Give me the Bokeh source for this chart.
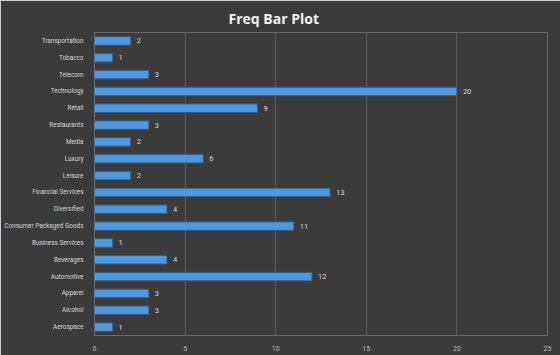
from bokeh.plotting import figure
from bokeh.models import ColumnDataSource, LabelSet, FixedTicker, Range1d
from bokeh.core.properties import value
from bokeh.embed import file_html
from bokeh.resources import INLINE

categories = ["Aerospace", "Alcohol", "Apparel", "Automotive", "Beverages",
              "Business Services", "Consumer Packaged Goods", "Diversified",
              "Financial Services", "Leisure", "Luxury", "Media", "Restaurants",
              "Retail", "Technology", "Telecom", "Tobacco", "Transportation"]
counts = [1, 3, 3, 12, 4, 1, 11, 4, 13, 2, 6, 2, 3, 9, 20, 3, 1, 2]
x_ticks = [0, 5, 10, 15, 20, 25]

FONT = "Roboto"

src = ColumnDataSource(dict(cat=categories, n=counts, lab=[str(c) for c in counts]))

p = figure(width=560, height=355, y_range=categories, x_range=Range1d(0, 25),
           output_backend="svg", toolbar_location=None,
           title="Freq Bar Plot",
           min_border_left=94, min_border_right=13, min_border_top=32,
           min_border_bottom=20)

bg = "#3b3b3b"
p.background_fill_color = bg
p.border_fill_color = bg
p.outline_line_color = None

p.title.align = "left"
p.title.offset = 134
p.title.text_color = "#f2f2f2"
p.title.text_font = "Open Sans"
p.title.text_font_size = "14px"
p.title.text_font_style = "bold"

p.hbar(y="cat", right="n", left=0, height=0.5, source=src,
       fill_color="#5099de", line_color="#2f5f90", line_width=1)

labels = LabelSet(x="n", y="cat", text="lab", source=src, x_offset=6,
                  text_baseline="middle", text_color="#d9d9d9",
                  text_font_size="7.5px", text_font=value(FONT))
p.add_layout(labels)

p.xaxis.ticker = FixedTicker(ticks=x_ticks)
p.xaxis.axis_line_color = None
p.xaxis.major_tick_line_color = None
p.xaxis.minor_tick_line_color = None
p.xaxis.major_label_text_color = "#bfbfbf"
p.xaxis.major_label_text_font = FONT
p.xaxis.major_label_text_font_size = "7px"
p.xaxis.major_label_standoff = 4

p.yaxis.axis_line_color = "#6e6e6e"
p.yaxis.major_tick_line_color = None
p.yaxis.minor_tick_line_color = None
p.yaxis.major_label_text_color = "#d9d9d9"
p.yaxis.major_label_text_font = FONT
p.yaxis.major_label_text_font_size = "6.4px"
p.yaxis.major_label_standoff = 5

p.xgrid.grid_line_color = "#5a5a5a"
p.xgrid.grid_line_width = 1
p.ygrid.grid_line_color = None
p.y_range.range_padding = 0

open("out.html", "w").write(file_html(p, INLINE))
